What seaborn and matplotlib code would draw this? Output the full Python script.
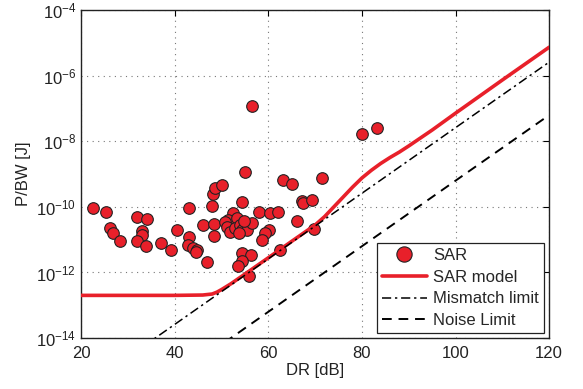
import matplotlib
matplotlib.use("Agg")
import matplotlib.pyplot as plt
import matplotlib.ticker as mticker
from matplotlib.lines import Line2D
import seaborn as sns
import pandas as pd

# ---- data ----
sar_dr = [22.6, 25.3, 26.1, 26.9, 28.3, 31.9, 34.0, 33.0, 33.0, 32.0, 33.9, 37.0,
          39.3, 40.4, 43.0, 43.1, 42.9, 44.0, 44.7, 44.5, 46.9, 46.1, 48.3, 48.5,
          48.0, 48.1, 48.6, 50.1, 55.0, 54.3, 56.5, 80.1, 83.2, 63.1, 65.1, 71.4,
          67.2, 67.4, 69.3, 58.0, 60.3, 62.1, 66.1, 69.7, 60.2, 59.3, 58.6, 62.5,
          54.3, 56.3, 54.3, 53.6, 55.8, 52.5, 51.4, 53.3, 50.8, 51.2, 51.8, 52.9,
          54.0, 54.4, 55.5, 56.5, 54.8, 53.8]
sar_pbw = [9.5e-11, 7.1e-11, 2.3e-11, 1.55e-11, 9.1e-12, 5.0e-11, 4.4e-11, 1.8e-11,
           1.4e-11, 9.1e-12, 6.2e-12, 7.7e-12, 5.0e-12, 2.0e-11, 9.5e-11, 1.2e-11,
           7.1e-12, 5.4e-12, 4.8e-12, 4.3e-12, 2.1e-12, 2.8e-11, 3.1e-11, 1.3e-11,
           1.1e-10, 2.45e-10, 3.7e-10, 4.5e-10, 1.15e-9, 1.45e-10, 1.18e-7, 1.66e-8,
           2.6e-8, 6.6e-10, 5.0e-10, 7.8e-10, 1.5e-10, 1.28e-10, 1.6e-10, 7.1e-11,
           6.7e-11, 7.1e-11, 3.8e-11, 2.15e-11, 2.0e-11, 1.55e-11, 1.0e-11, 4.8e-12,
           3.8e-12, 3.3e-12, 2.3e-12, 1.6e-12, 8.0e-13, 6.5e-11, 4.0e-11, 4.6e-11,
           3.5e-11, 2.4e-11, 1.7e-11, 2.2e-11, 2.8e-11, 2.0e-11, 2.0e-11, 3.2e-11,
           3.7e-11, 1.6e-11]

model_dr = [20, 40, 46, 48, 49, 50, 52, 55, 60, 65, 70, 72, 74, 76, 78, 80, 82,
            84, 86, 88, 90, 95, 100, 110, 120]
model_pbw = [2.0e-13, 2.0e-13, 2.05e-13, 2.2e-13, 2.5e-13, 3.0e-13, 4.5e-13,
             8.9e-13, 2.8e-12, 8.9e-12, 2.8e-11, 5.0e-11, 1.0e-10, 2.0e-10,
             4.0e-10, 7.6e-10, 1.3e-9, 2.1e-9, 3.2e-9, 4.7e-9, 7.2e-9, 2.2e-8,
             7.2e-8, 7.4e-7, 7.4e-6]

mismatch_dr = [20, 120]
mismatch_pbw = [2.6e-16, 2.6e-6]

noise_dr = [20, 120]
noise_pbw = [6.3e-18, 6.3e-8]

x_ticks = [20, 40, 60, 80, 100, 120]
y_ticks = [1e-14, 1e-12, 1e-10, 1e-8, 1e-6, 1e-4]

# ---- styling ----
sns.set_style("white")
plt.rcParams["font.family"] = ["Liberation Sans", "DejaVu Sans"]
plt.rcParams["mathtext.default"] = "regular"
plt.rcParams["axes.unicode_minus"] = True

fig = plt.figure(figsize=(5.83, 3.89), dpi=100)
ax = fig.add_axes([0.139, 0.131, 0.803, 0.843])

red = "#E8202A"

df_sar = pd.DataFrame({"dr": sar_dr, "pbw": sar_pbw})
sns.scatterplot(data=df_sar, x="dr", y="pbw", ax=ax, s=70, color=red,
                edgecolor="#222222", linewidth=0.8, zorder=3, legend=False)

df_model = pd.DataFrame({"dr": model_dr, "pbw": model_pbw})
sns.lineplot(data=df_model, x="dr", y="pbw", ax=ax, color=red, lw=2.6,
             zorder=4, legend=False)

df_mm = pd.DataFrame({"dr": mismatch_dr, "pbw": mismatch_pbw})
sns.lineplot(data=df_mm, x="dr", y="pbw", ax=ax, color="black", lw=1.1,
             zorder=5, legend=False)
ax.lines[-1].set_linestyle((0, (6, 2.5, 1.5, 2.5)))

df_noise = pd.DataFrame({"dr": noise_dr, "pbw": noise_pbw})
sns.lineplot(data=df_noise, x="dr", y="pbw", ax=ax, color="black", lw=1.4,
             zorder=5, legend=False)
ax.lines[-1].set_linestyle((0, (5, 3.5)))

ax.set_yscale("log")
ax.set_xlim(20, 120)
ax.set_ylim(1e-14, 1e-4)
ax.set_xticks(x_ticks)
ax.set_yticks(y_ticks)
ax.yaxis.set_major_formatter(mticker.LogFormatterMathtext())
ax.yaxis.set_minor_locator(mticker.NullLocator())
ax.tick_params(axis="both", direction="in", length=4, width=0.8,
               labelsize=12, colors="black", top=True, right=True,
               labelcolor="#222222")
ax.tick_params(axis="x", pad=6)
ax.grid(True, which="major", linestyle=(0, (1, 4)), color="#777777", lw=0.8)
for sp in ax.spines.values():
    sp.set_visible(True)
    sp.set_color("#222222")
    sp.set_linewidth(1.0)

ax.set_xlabel("DR [dB]", fontsize=12, labelpad=1, color="#222222")
ax.set_ylabel("P/BW [J]", fontsize=12, labelpad=4, color="#222222")

handles = [
    Line2D([], [], linestyle="none", marker="o", markersize=11,
           markerfacecolor=red, markeredgecolor="#222222", markeredgewidth=0.8),
    Line2D([], [], color=red, lw=2.6),
    Line2D([], [], color="black", lw=1.1, linestyle=(0, (6, 2.5, 1.5, 2.5))),
    Line2D([], [], color="black", lw=1.4, linestyle=(0, (5, 3.5))),
]
labels = ["SAR", "SAR model", "Mismatch limit", "Noise Limit"]
leg = ax.legend(handles, labels, loc="lower right", fontsize=12,
                frameon=True, fancybox=False, framealpha=1,
                edgecolor="#222222", borderaxespad=0.3, borderpad=0.3,
                labelspacing=0.4, handlelength=2.7, handletextpad=0.4)
leg.get_frame().set_linewidth(0.9)
leg.set_zorder(10)

fig.savefig("out.png", dpi=100)
